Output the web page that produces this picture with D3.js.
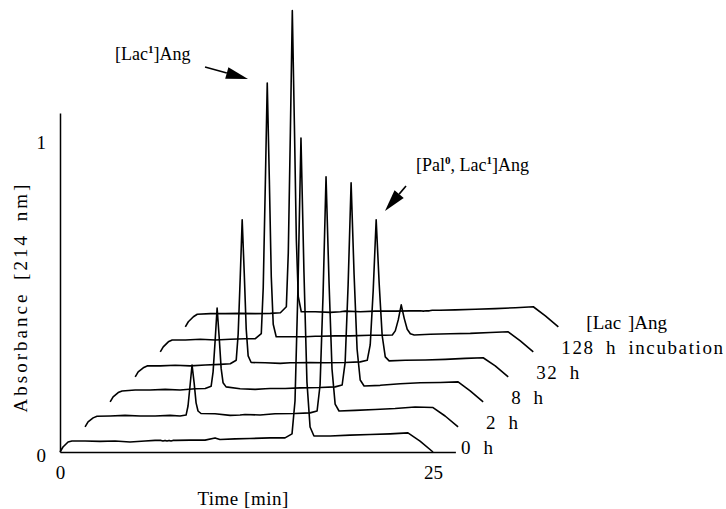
<!DOCTYPE html>
<html>
<head>
<meta charset="utf-8">
<script src="https://cdn.jsdelivr.net/npm/d3@7"></script>
<style>
  body { margin: 0; background: #fff; }
  svg { display: block; }
  text { font-family: "Liberation Serif", "Times New Roman", serif; fill: #000; }
</style>
</head>
<body>
<svg id="chart" width="726" height="509"></svg>
<script>
// ---------------- DATA ----------------
// Shared time grid (min), relative to each trace's own origin
const times = [0, 0.20, 0.54, 0.80, 1.68, 2.68, 3.69, 4.69, 5.70, 6.37,
  6.77, 6.90, 7.04, 7.17, 7.31, 7.44, 7.57, 7.77,
  8.71, 9.72, 10.39, 10.72, 11.73, 12.73, 14.07, 15.08,
  15.55, 15.75, 15.95, 16.15, 16.35, 16.55, 16.76, 17.02,
  18.10, 19.44, 20.78, 22.12, 23.32, 24.13, 25.00];

// Absorbance (214 nm) of each trace at the grid times
const abs0h = [0, .016, .032, .035, .035, .034, .035, .032, .035, .037,
  .037, .035, .037, .035, .037, .035, .037, .037,
  .038, .038, .045, .040, .042, .043, .045, .045,
  .058, .163, .527, 1.003, .575, .224, .080, .051,
  .051, .054, .056, .058, .061, .035, 0];
const abs2h = [0, .016, .029, .034, .035, .037, .035, .035, .037, .035,
  .038, .067, .134, .198, .141, .077, .051, .043,
  .042, .037, .038, .040, .038, .042, .043, .045,
  .051, .134, .422, .799, .463, .185, .073, .051,
  .053, .056, .059, .064, .062, .035, 0];
const abs8h = [0, .016, .030, .035, .038, .038, .040, .038, .042, .043,
  .050, .096, .198, .300, .206, .107, .061, .048,
  .042, .040, .042, .043, .043, .045, .046, .048,
  .054, .126, .374, .700, .407, .169, .070, .051,
  .053, .058, .061, .062, .064, .035, 0];
const abs32h = [0, .016, .029, .035, .035, .037, .035, .038, .040, .042,
  .053, .136, .318, .502, .329, .153, .067, .046,
  .045, .043, .045, .045, .046, .045, .046, .048,
  .053, .102, .275, .502, .299, .133, .064, .051,
  .053, .054, .056, .059, .061, .035, 0];
const abs128h = [0, .016, .032, .038, .038, .040, .038, .040, .042, .042,
  .058, .204, .534, .859, .551, .240, .088, .048,
  .048, .048, .050, .050, .051, .051, .053, .053,
  .054, .067, .102, .150, .107, .072, .058, .054,
  .056, .058, .059, .062, .064, .035, 0];
const absLacAng = [0, .016, .032, .040, .042, .042, .043, .042, .043, .045,
  .064, .236, .623, 1.010, .644, .278, .096, .048,
  .048, .046, .048, .050, .048, .050, .050, .051,
  .051, .051, .050, .051, .051, .053, .053, .053,
  .054, .056, .058, .061, .064, .035, 0];

const traceLabels = ["0 h", "2 h", "8 h", "32 h", "128 h incubation", "[Lac ]Ang"];
const series = [abs0h, abs2h, abs8h, abs32h, abs128h, absLacAng];

// waterfall shift between successive traces (data units)
const shiftTime = 1.68;
const shiftAbs = 0.08;

const xTickValues = [0, 25];
const yTickValues = [0, 1];

// annotation anchors (base frame data units)
const annotLac = { parts: [["[Lac", false], ["1", true], ["]Ang", false]], textT: 3.69, textA: 1.252, tailT: 9.72, tailA: 1.230, tipT: 12.60, tipA: 1.192 };
const annotPal = { parts: [["[Pal", false], ["0", true], [", Lac", false], ["1", true], ["]Ang", false]], textT: 23.86, textA: 0.898, tailT: 23.19, tailA: 0.850, tipT: 21.78, tipA: 0.770 };
const annotations = [annotLac, annotPal];

// ---------------- CHART ----------------
const svg = d3.select("#chart");
const x = d3.scaleLinear().domain([0, 26.5]).range([60, 455.4]);
const y = d3.scaleLinear().domain([0, 1.083]).range([452, 113]);

const lineFor = k => d3.line()
  .x((d, i) => x(times[i] + k * shiftTime))
  .y(d => y(d + k * shiftAbs));

// axes
const gx = svg.append("g")
  .attr("transform", `translate(0,${y(0)})`)
  .call(d3.axisBottom(x).tickValues(xTickValues).tickSize(0).tickSizeOuter(0).tickPadding(14).tickFormat(d3.format("d")));
gx.attr("font-family", null).attr("font-size", null);
gx.select(".domain").attr("stroke", "#000").attr("stroke-width", 1.5);
gx.selectAll("text").style("font-size", "19px");

const gy = svg.append("g")
  .attr("transform", `translate(${x(0)},0)`)
  .call(d3.axisLeft(y).tickValues(yTickValues).tickSize(0).tickSizeOuter(0).tickPadding(14).tickFormat(d3.format("d")));
gy.attr("font-family", null).attr("font-size", null);
gy.select(".domain").attr("stroke", "#000").attr("stroke-width", 1.5);
gy.selectAll("text").style("font-size", "19px").attr("dy", "0.48em");

// traces
svg.append("g").selectAll("path")
  .data(series)
  .join("path")
  .attr("d", (d, k) => lineFor(k)(d))
  .attr("fill", "none")
  .attr("stroke", "#000")
  .attr("stroke-width", 1.6)
  .attr("stroke-linejoin", "round");

// trace labels
svg.append("g").selectAll("text")
  .data(traceLabels)
  .join("text")
  .attr("x", (d, k) => x(25 + k * shiftTime) + 28)
  .attr("y", (d, k) => y(k * shiftAbs) + 2)
  .style("font-size", "19px")
  .style("letter-spacing", (d, k) => k === traceLabels.length - 1 ? "0px" : "1.6px")
  .style("word-spacing", (d, k) => k === traceLabels.length - 1 ? "2px" : "5px")
  .style("white-space", "pre")
  .text(d => d);

// axis titles
svg.append("text")
  .attr("x", x(12.27))
  .attr("y", 505)
  .attr("text-anchor", "middle")
  .style("font-size", "19px")
  .style("letter-spacing", "0.5px")
  .text("Time [min]");

svg.append("text")
  .attr("transform", `translate(27,${y(0.495)}) rotate(-90)`)
  .attr("text-anchor", "middle")
  .style("font-size", "19px")
  .style("letter-spacing", "3px")
  .style("word-spacing", "4px")
  .text("Absorbance [214 nm]");

// annotations
annotations.forEach(a => {
  const t = svg.append("text")
    .attr("x", x(a.textT))
    .attr("y", y(a.textA))
    .style("font-size", "18px");
  a.parts.forEach(([s, sup], i) => {
    const prevSup = i > 0 && a.parts[i - 1][1];
    const ts = t.append("tspan").text(s);
    if (sup) ts.attr("dy", -7).style("font-size", "11px").style("font-weight", "bold");
    else if (prevSup) ts.attr("dy", 7);
  });
  const tx = x(a.tailT), ty = y(a.tailA), px = x(a.tipT), py = y(a.tipA);
  const len = Math.hypot(px - tx, py - ty);
  const ux = (px - tx) / len, uy = (py - ty) / len;
  const headL = 22, headW = 6;
  const bx = px - ux * headL, by = py - uy * headL;
  svg.append("line")
    .attr("x1", tx).attr("y1", ty).attr("x2", bx).attr("y2", by)
    .attr("stroke", "#000").attr("stroke-width", 1.6);
  svg.append("path")
    .attr("d", `M${px},${py}L${bx - uy * headW},${by + ux * headW}L${bx + uy * headW},${by - ux * headW}Z`)
    .attr("fill", "#000");
});
</script>
</body>
</html>
